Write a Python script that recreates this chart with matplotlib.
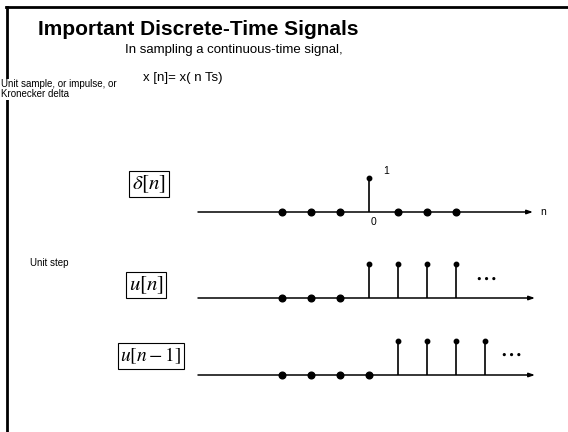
import matplotlib
matplotlib.use("Agg")
import matplotlib.pyplot as plt
from matplotlib.lines import Line2D

plt.rcParams['font.family'] = ['Liberation Sans', 'DejaVu Sans']
plt.rcParams['mathtext.fontset'] = 'stix'

# ---- data ----
title = "Important Discrete-Time Signals"
subtitle = "In sampling a continuous-time signal,"
formula = "x [n]= x( n Ts)"
n_delta = [-3, -2, -1, 0, 1, 2, 3]
v_delta = [0, 0, 0, 1, 0, 0, 0]
n_step = [-3, -2, -1, 0, 1, 2, 3]
v_step = [0, 0, 0, 1, 1, 1, 1]
n_shift = [-3, -2, -1, 0, 1, 2, 3, 4]
v_shift = [0, 0, 0, 0, 1, 1, 1, 1]
row_labels = [r"$\delta[n]$", r"$u[n]$", r"$u[n-1]$"]

W, H = 568, 432
fig = plt.figure(figsize=(W / 100, H / 100), dpi=100)

def fx(x):
    return x / W

def fy(y):
    return 1 - y / H

# slide frame (top and left)
fig.add_artist(Line2D([fx(6), fx(568)], [fy(7), fy(7)], color='black', lw=2.0, zorder=1))
fig.add_artist(Line2D([fx(7), fx(7)], [fy(7), fy(432)], color='black', lw=2.0, zorder=1))

fig.text(fx(38), fy(35), title, fontsize=15, fontweight='bold', ha='left', va='baseline')
fig.text(fx(125), fy(53), subtitle, fontsize=9.5, ha='left', va='baseline')
fig.text(fx(143), fy(81), formula, fontsize=9.5, ha='left', va='baseline')
fig.text(fx(1), fy(79), "Unit sample, or impulse, or\nKronecker delta", fontsize=7,
         ha='left', va='top', linespacing=1.05, zorder=5,
         bbox=dict(boxstyle='square,pad=0.05', fc='white', ec='none'))
fig.text(fx(30), fy(263), "Unit step", fontsize=7, ha='left', va='center')

# pixel mapping for n axis
N0_PX = 369.0
DN_PX = 29.0
UNIT_PX = 34.0
AX_L, AX_R = 190, 550

def make_row(base_y):
    ax = fig.add_axes([fx(AX_L), fy(base_y + 15), (AX_R - AX_L) / W, 60 / H])
    ax.set_xlim((AX_L - N0_PX) / DN_PX, (AX_R - N0_PX) / DN_PX)
    ax.set_ylim(-15 / UNIT_PX, 45 / UNIT_PX)
    ax.axis('off')
    return ax

def draw_signal(ax, n, v, x_start_px, x_end_px):
    xs = (x_start_px - N0_PX) / DN_PX
    xe = (x_end_px - N0_PX) / DN_PX
    ax.annotate("", xy=(xe, 0), xytext=(xs, 0),
                arrowprops=dict(arrowstyle='-|>,head_length=0.35,head_width=0.12',
                                color='black', lw=1.1, shrinkA=0, shrinkB=0))
    nz = [a for a, b in zip(n, v) if b == 0]
    ax.plot(nz, [0] * len(nz), 'o', color='black', ms=4.8, zorder=3)
    nn = [a for a, b in zip(n, v) if b != 0]
    vv = [b for b in v if b != 0]
    ax.vlines(nn, 0, vv, color='black', lw=1.2)
    ax.plot(nn, vv, 'o', color='black', ms=3.2, zorder=3)

ax1 = make_row(212)
draw_signal(ax1, n_delta, v_delta, 198, 533)
ax1.text(0.6, 1.2, "1", fontsize=7.5, ha='center', va='center')
ax1.text(0.15, -0.3, "0", fontsize=7.5, ha='center', va='center')
ax1.text((540 - N0_PX) / DN_PX, 0, "n", fontsize=7.5, ha='left', va='center')

ells = r"$\cdots$"
ax2 = make_row(298)
draw_signal(ax2, n_step, v_step, 198, 535)
ax2.text(4.02, 0.62, ells, fontsize=18, ha='center', va='center')

ax3 = make_row(375)
draw_signal(ax3, n_shift, v_shift, 198, 535)
ax3.text(4.88, 0.65, ells, fontsize=18, ha='center', va='center')

box = dict(boxstyle='square,pad=0.12', fc='white', ec='black', lw=0.8)
fig.text(fx(149), fy(184), row_labels[0], fontsize=15, ha='center', va='center', bbox=box)
fig.text(fx(146), fy(285), row_labels[1], fontsize=15, ha='center', va='center', bbox=box)
fig.text(fx(151), fy(356), row_labels[2], fontsize=14, ha='center', va='center', bbox=box)

fig.savefig("out.png", dpi=100)
